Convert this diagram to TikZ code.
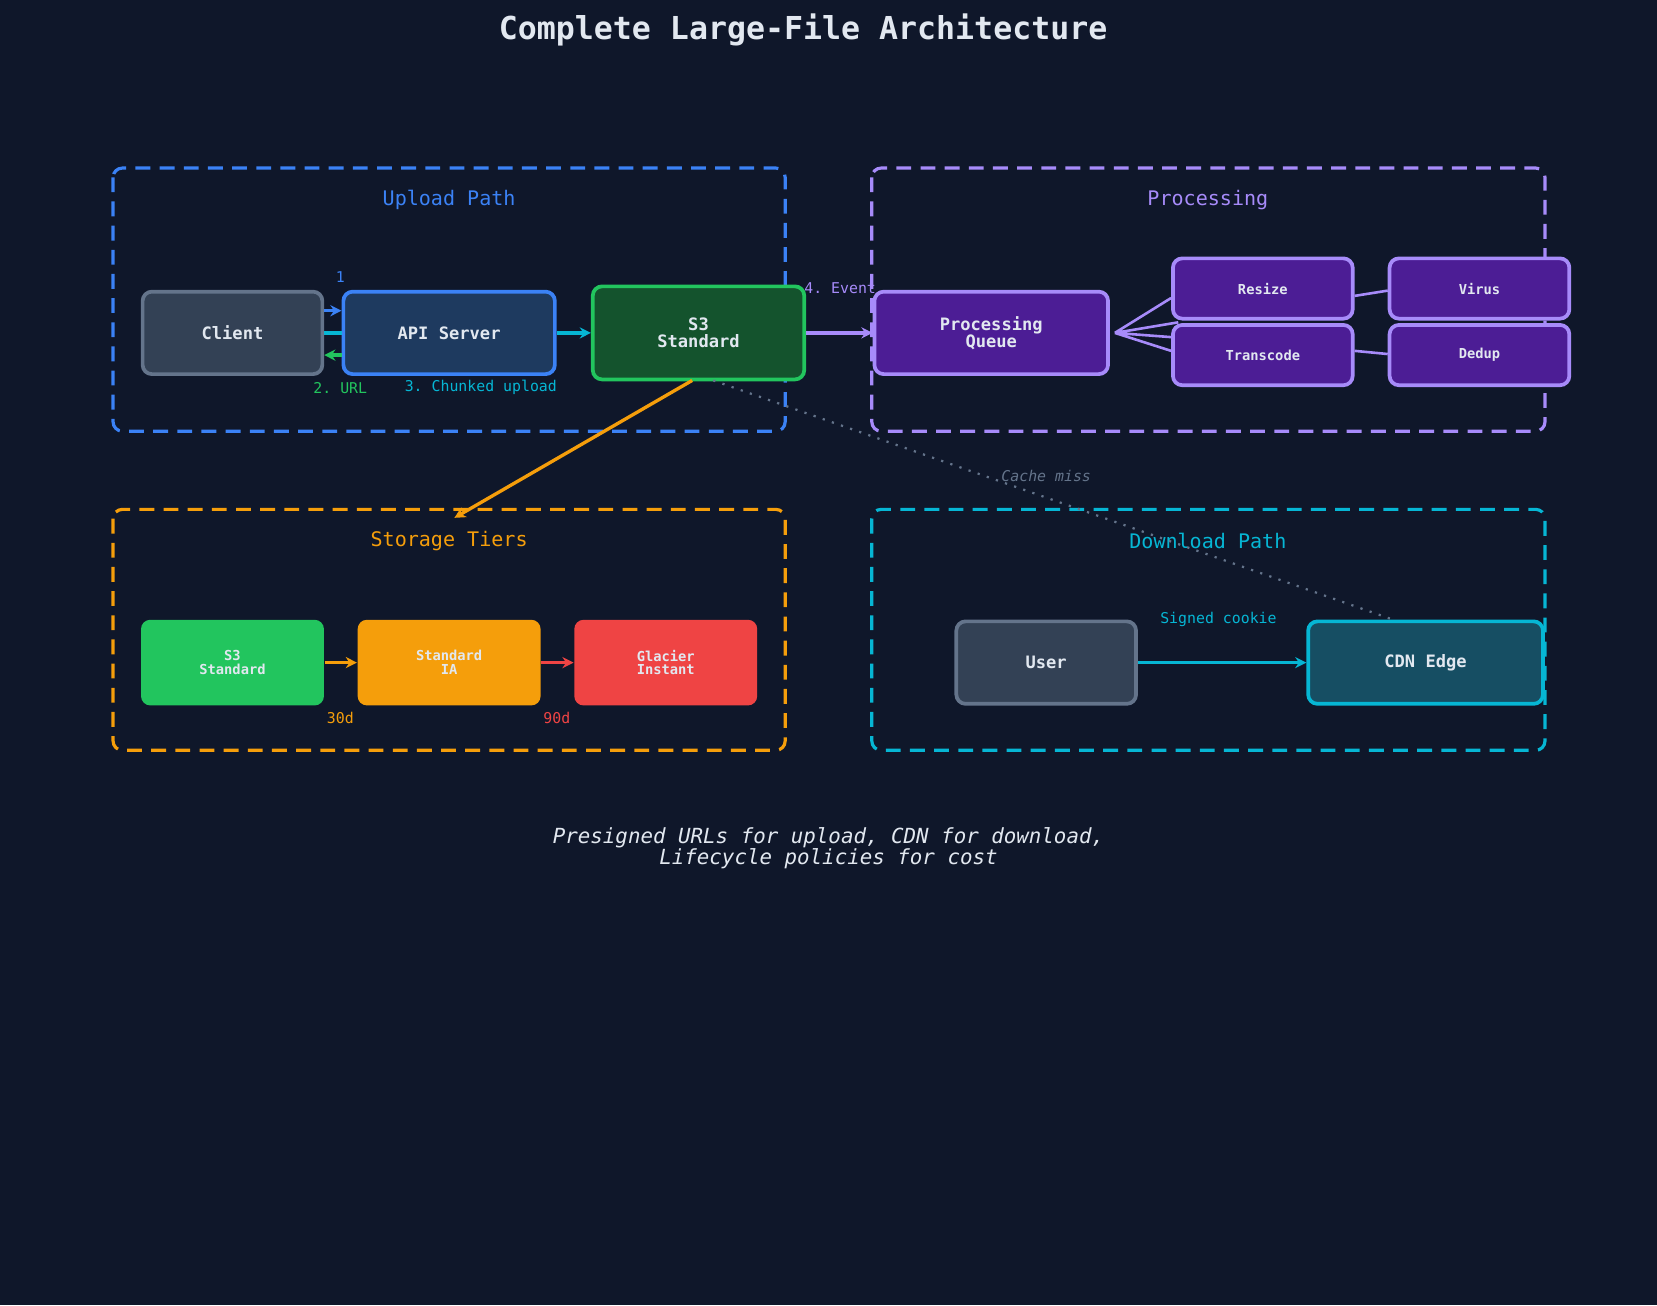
\documentclass[tikz,border=0pt]{standalone}
\usepackage{fontspec}
\setmonofont{DejaVu Sans Mono}
\usetikzlibrary{arrows.meta}
\definecolor{bg}{HTML}{0F172A}
\definecolor{cblue}{HTML}{3B82F6}
\definecolor{cpurp}{HTML}{A78BFA}
\definecolor{corange}{HTML}{F59E0B}
\definecolor{ccyan}{HTML}{06B6D4}
\definecolor{cgreen}{HTML}{22C55E}
\definecolor{cred}{HTML}{EF4444}
\definecolor{cslate}{HTML}{334155}
\definecolor{cslateb}{HTML}{64748B}
\definecolor{capi}{HTML}{1E3A5F}
\definecolor{cs3}{HTML}{14532D}
\definecolor{cpfill}{HTML}{4C1D95}
\definecolor{ccdn}{HTML}{164E63}
\definecolor{ctext}{HTML}{E2E8F0}
\newcommand{\fsz}[1]{\fontsize{#1}{#1}\selectfont\ttfamily}
\tikzset{
  group/.style={draw=#1, dashed, dash pattern=on 4pt off 2.5pt, line width=0.85pt, rounded corners=2.5pt},
  box/.style={draw=#1, line width=1pt, rounded corners=2.5pt, text=ctext, font=\fsz{4.6}\bfseries, align=center, inner sep=0pt},
  small/.style={box=cpurp, fill=cpfill, font=\fsz{3.7}\bfseries, minimum width=1.70cm, minimum height=0.57cm},
  tier/.style={rounded corners=2.5pt, text=ctext, font=\fsz{3.7}\bfseries, align=center, minimum width=1.73cm, minimum height=0.81cm, inner sep=0pt},
  arr/.style={-{Stealth[length=3pt,width=3pt]}, line width=0.9pt, draw=#1},
  lbl/.style={font=\fsz{4}, text=#1},
  gtitle/.style={font=\fsz{5.4}, text=#1},
}
\begin{document}
\begin{tikzpicture}[x=0.01cm, y=-0.01cm]
  \fill[bg] (0,0) rectangle (1568,1235);
  \useasboundingbox (0,0) rectangle (1568,1235);
  \node[font=\fsz{8.5}\bfseries, text=ctext] (title) at (760,28) {Complete Large-File Architecture};
  % groups
  \draw[group=cblue] (107,159) rectangle (743,408);
  \draw[group=cpurp] (825,159) rectangle (1462,408);
  \draw[group=corange] (107,482) rectangle (743,710);
  \draw[group=ccyan] (825,482) rectangle (1462,710);
  \node[gtitle=cblue] (tup) at (425,189) {Upload Path};
  \node[gtitle=cpurp] (tproc) at (1143,189) {Processing};
  \node[gtitle=corange] (tstore) at (425,512) {Storage Tiers};
  \node[gtitle=ccyan] (tdown) at (1143,512) {Download Path};
  % upload path
  \node[box=cslateb, fill=cslate, minimum width=1.70cm, minimum height=0.78cm] (client) at (220,315) {Client};
  \node[box=cblue, fill=capi, minimum width=2.00cm, minimum height=0.78cm] (api) at (425,315) {API Server};
  \node[box=cgreen, fill=cs3, minimum width=2.00cm, minimum height=0.88cm] (s3) at (661,315) {S3\\Standard};
  \draw[ccyan, line width=0.9pt] (client.east) -- (api.west);
  \draw[arr=cblue] (client.east |- 0,294) -- (api.west |- 0,294);
  \draw[arr=cgreen] (api.west |- 0,336) -- (client.east |- 0,336);
  \draw[arr=ccyan] (api) -- (s3);
  \node[lbl=cblue] (l1) at (322,262) {1};
  \node[lbl=cgreen] (l2) at (322,367) {2. URL};
  \node[lbl=ccyan] (l3) at (455,367) {3. Chunked upload};
  % processing
  \node[box=cpurp, fill=cpfill, minimum width=2.21cm, minimum height=0.78cm] (queue) at (938,315) {Processing\\Queue};
  \node[small] (resize) at (1195,273) {Resize};
  \node[small] (trans) at (1195,336) {Transcode};
  \node[small] (virus) at (1400,273) {Virus};
  \node[small] (dedup) at (1400,336) {Dedup};
  \draw[arr=cpurp] (s3) -- (queue);
  \node[lbl=cpurp] (l4) at (795,273) {4. Event};
  \coordinate (fan) at (1055,315);
  \draw[cpurp, line width=0.7pt] (fan) -- (resize.west |- 0,282) (fan) -- (1115,305)
    (fan) -- (trans.west |- 0,319) (fan) -- (trans.west |- 0,332)
    (resize.east |- 0,280) -- (virus.west |- 0,275) (trans.east |- 0,332) -- (dedup.west |- 0,335);
  % storage
  \node[tier, fill=cgreen] (t1) at (220,627) {S3\\Standard};
  \node[tier, fill=corange] (t2) at (425,627) {Standard\\IA};
  \node[tier, fill=cred] (t3) at (630,627) {Glacier\\Instant};
  \draw[arr=corange] (t1) -- (t2);
  \draw[arr=cred] (t2) -- (t3);
  \node[lbl=corange] (d30) at (322,679) {30d};
  \node[lbl=cred] (d90) at (527,679) {90d};
  \coordinate (stin) at (430,490);
  \draw[arr=corange] (655,360) -- (stin);
  % download
  \node[box=cslateb, fill=cslate, minimum width=1.70cm, minimum height=0.78cm] (user) at (990,627) {User};
  \node[box=ccyan, fill=ccdn, minimum width=2.22cm, minimum height=0.78cm] (cdn) at (1349,627) {CDN Edge};
  \draw[arr=ccyan] (user) -- (cdn);
  \node[lbl=ccyan] (lsc) at (1153,586) {Signed cookie};
  \draw[cslateb, dotted, line width=0.6pt] (675,360) -- (1320,587);
  \node[lbl=cslateb, font=\fsz{4}\itshape] (lcm) at (990,450) {Cache miss};
  % footer
  \node[font=\fsz{5.6}\itshape, text=ctext, align=center] (foot) at (784,803) {Presigned URLs for upload, CDN for download,\\Lifecycle policies for cost};
\end{tikzpicture}
\end{document}
